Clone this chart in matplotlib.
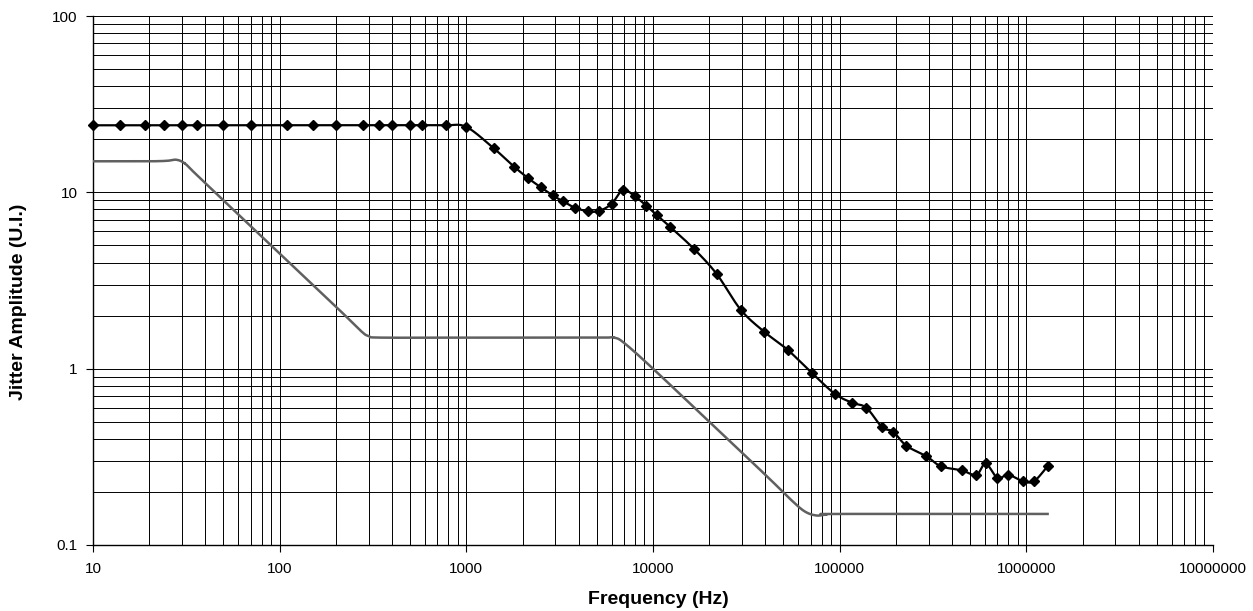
import numpy as np
import matplotlib
matplotlib.use("Agg")
import matplotlib.pyplot as plt
from matplotlib.ticker import LogLocator, FuncFormatter

plt.rcParams['font.family'] = ['Liberation Sans', 'DejaVu Sans']

# measured jitter tolerance (black, diamonds)
meas_freq = [10, 14, 19, 24, 30, 36, 50, 70, 109, 150, 200, 280, 340, 400, 500, 580, 780,
             1000, 1400, 1800, 2150, 2500, 2900, 3300, 3800, 4500, 5150, 6000, 6900, 8000,
             9200, 10500, 12300, 16500, 21900, 29500, 39400, 52600, 70700, 94200, 117000,
             139000, 169000, 193000, 228000, 290000, 348000, 450000, 540000, 605000,
             700000, 800000, 960000, 1100000, 1300000]
meas_amp = [24, 24, 24, 24, 24, 24, 24, 24, 24, 24, 24, 24, 24, 24, 24, 24, 24,
            23.5, 17.8, 14.0, 12.0, 10.7, 9.6, 8.9, 8.2, 7.8, 7.85, 8.6, 10.3, 9.5,
            8.4, 7.4, 6.4, 4.8, 3.45, 2.16, 1.62, 1.28, 0.95, 0.72, 0.64,
            0.6, 0.465, 0.44, 0.365, 0.32, 0.28, 0.265, 0.25, 0.29,
            0.24, 0.25, 0.23, 0.23, 0.28]

# tolerance mask (gray line)
mask_freq = [10, 20, 25, 28, 31, 35, 50, 100, 200, 270, 300, 350, 1000, 3000, 5500,
             6200, 7000, 10000, 20000, 40000, 55000, 65000, 75000, 85000, 100000, 1300000]
mask_amp = [15, 15, 15.1, 15.3, 14.6, 12.9, 9.0, 4.5, 2.25, 1.65, 1.53, 1.5, 1.5, 1.5, 1.5,
            1.5, 1.4, 1.0, 0.5, 0.25, 0.18, 0.155, 0.147, 0.149, 0.15, 0.15]


def smooth(xs, ys, n=30):
    # catmull-rom through the points in log-log space, like a spreadsheet "smoothed line"
    px = np.log10(xs)
    py = np.log10(ys)
    px = np.concatenate([[px[0]], px, [px[-1]]])
    py = np.concatenate([[py[0]], py, [py[-1]]])
    outx, outy = [], []
    t = np.linspace(0, 1, n)
    for i in range(1, len(px) - 2):
        for arr, out in ((px, outx), (py, outy)):
            p0, p1, p2, p3 = arr[i - 1], arr[i], arr[i + 1], arr[i + 2]
            out.extend(0.5 * ((2 * p1) + (-p0 + p2) * t +
                              (2 * p0 - 5 * p1 + 4 * p2 - p3) * t ** 2 +
                              (-p0 + 3 * p1 - 3 * p2 + p3) * t ** 3))
    return 10 ** np.array(outx), 10 ** np.array(outy)


fig = plt.figure(figsize=(12.53, 6.11), dpi=100)
ax = fig.add_axes([93 / 1253, 1 - 545 / 611, 1120 / 1253, 529 / 611])

ax.set_xscale('log')
ax.set_yscale('log')
ax.set_xlim(10, 1e7)
ax.set_ylim(0.1, 100)

ax.xaxis.set_minor_locator(LogLocator(base=10, subs=np.arange(2, 10)))
ax.yaxis.set_minor_locator(LogLocator(base=10, subs=np.arange(2, 10)))
ax.grid(True, which='both', color='black', linewidth=0.7)
ax.set_axisbelow(True)

fmt = FuncFormatter(lambda v, pos: f'{v:.10g}')
ax.xaxis.set_major_formatter(fmt)
ax.yaxis.set_major_formatter(fmt)
ax.xaxis.set_minor_formatter(FuncFormatter(lambda v, pos: ''))
ax.yaxis.set_minor_formatter(FuncFormatter(lambda v, pos: ''))
ax.tick_params(which='major', length=5, width=0.8, labelsize=11)
ax.tick_params(axis='x', pad=7)
ax.tick_params(axis='y', pad=6)
ax.tick_params(which='minor', length=0)

for side in ['top', 'right']:
    ax.spines[side].set_visible(False)
for side in ['left', 'bottom']:
    ax.spines[side].set_linewidth(1.0)

sx, sy = smooth(mask_freq, mask_amp, n=12)
ax.plot(sx, sy, color='#606060', linewidth=1.8, zorder=3)

sx, sy = smooth(meas_freq, meas_amp)
ax.plot(sx, sy, color='black', linewidth=1.6, zorder=4)
ax.plot(meas_freq, meas_amp, linestyle='none', marker='D', markersize=5.5,
        color='black', zorder=5, clip_on=False)

fig.text(658 / 1253, 1 - 600 / 611, 'Frequency (Hz)', fontsize=14, fontweight='bold',
         ha='center', va='center')
fig.text(19 / 1253, 1 - 302 / 611, 'Jitter Amplitude (U.I.)', fontsize=14,
         fontweight='bold', ha='center', va='center', rotation=90)

fig.savefig('out.png', dpi=100)
